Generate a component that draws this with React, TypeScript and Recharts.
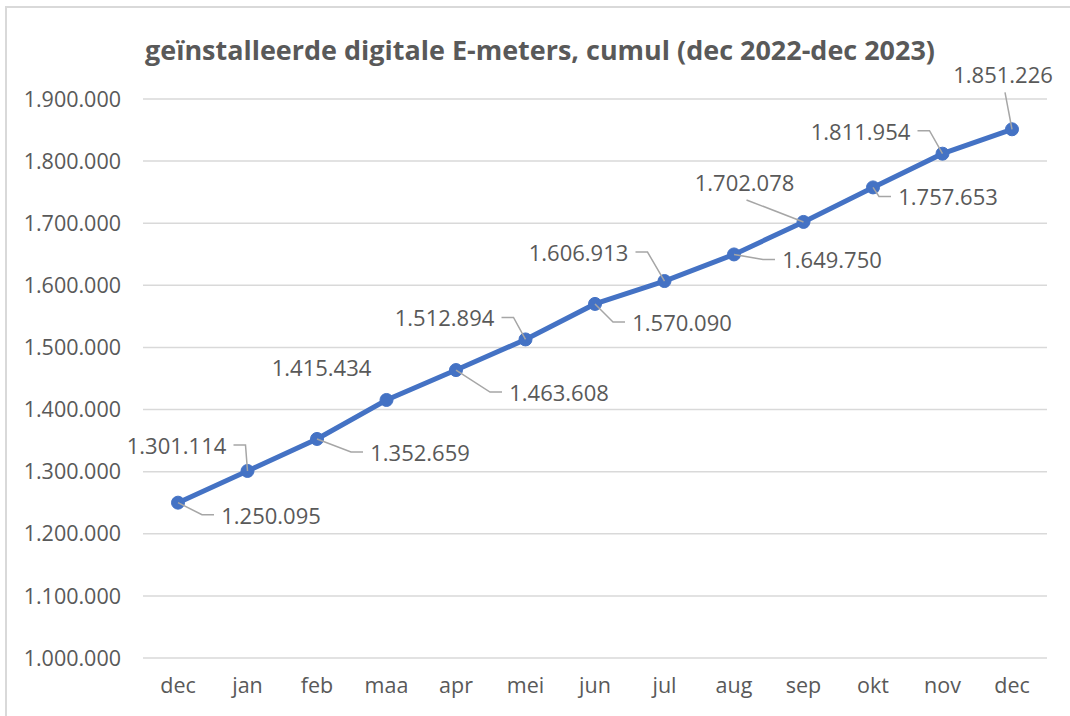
import React from 'react';
import { LineChart, Line, XAxis, YAxis, CartesianGrid, LabelList } from 'recharts';

// cumulative installed digital electricity meters
const months = ['dec', 'jan', 'feb', 'maa', 'apr', 'mei', 'jun', 'jul', 'aug', 'sep', 'okt', 'nov', 'dec'];
const meters = [1250095, 1301114, 1352659, 1415434, 1463608, 1512894, 1570090, 1606913, 1649750, 1702078, 1757653, 1811954, 1851226];
const yTicks = [1000000, 1100000, 1200000, 1300000, 1400000, 1500000, 1600000, 1700000, 1800000, 1900000];

const title = 'geïnstalleerde digitale E-meters, cumul (dec 2022-dec 2023)';

// where each data label sits relative to its point (r = right, l = left, t = top, n = no leader)
const labelPlace = [
  { dx: 93, dy: 12, side: 'r' },
  { dx: -71, dy: -26, side: 'l' },
  { dx: 103, dy: 13, side: 'r' },
  { dx: -65, dy: -33, side: 'n' },
  { dx: 103, dy: 22, side: 'r' },
  { dx: -81, dy: -22, side: 'l' },
  { dx: 87, dy: 18, side: 'r' },
  { dx: -86, dy: -29, side: 'l' },
  { dx: 98, dy: 5, side: 'r' },
  { dx: -59, dy: -40, side: 't' },
  { dx: 75, dy: 9, side: 'r' },
  { dx: -82, dy: -23, side: 'l' },
  { dx: -9, dy: -55, side: 't' },
];

const data = months.map((m, i) => ({ month: m, meters: meters[i] }));

const fmt = (v: number) => String(v).replace(/\B(?=(\d{3})+(?!\d))/g, '.');

const font = '"Open Sans", "DejaVu Sans", sans-serif';
const textColor = '#595959';
const half = 49;

const renderLabel = (props: any) => {
  const { x, y, value, index } = props;
  const p = labelPlace[index];
  if (!p) return null;
  const cx = x + p.dx;
  const cy = y + p.dy;
  let leader = '';
  if (p.side === 'r') {
    const left = cx - half;
    leader = `M${x},${y} L${left - 20},${cy} L${left - 8},${cy}`;
  } else if (p.side === 'l') {
    const right = cx + half;
    leader = `M${right + 8},${cy} L${right + 20},${cy} L${x},${y}`;
  } else if (p.side === 't') {
    leader = `M${cx + 2},${cy + 18} L${x},${y}`;
  }
  return (
    <g key={`lbl-${index}`}>
      {leader && <path d={leader} fill="none" stroke="#a6a6a6" strokeWidth={1.5} />}
      <text x={cx} y={cy} textAnchor="middle" dominantBaseline="central" fontSize={22} fontFamily={font} fill={textColor}>
        {fmt(value)}
      </text>
    </g>
  );
};

export default function App() {
  return (
    <div style={{ position: 'absolute', left: 0, top: 0, width: 1070, height: 716, background: '#fff', overflow: 'hidden' }}>
      <div style={{ position: 'absolute', left: 5, top: 6, width: 1100, height: 750, borderLeft: '2px solid #d9d9d9', borderTop: '2px solid #d9d9d9' }} />
      <LineChart width={1070} height={716} data={data} margin={{ top: 99, right: 23, bottom: 0, left: 0 }}>
        <CartesianGrid vertical={false} stroke="#d9d9d9" strokeWidth={1.5} />
        <XAxis
          dataKey="month"
          axisLine={false}
          tickLine={false}
          tickSize={0}
          tickMargin={20}
          height={58}
          padding={{ left: 35, right: 35 }}
          tick={{ fontSize: 21.5, fontFamily: font, fill: textColor }}
        />
        <YAxis
          domain={[1000000, 1900000]}
          ticks={yTicks}
          tickFormatter={fmt}
          axisLine={false}
          tickLine={false}
          tickSize={0}
          tickMargin={22}
          width={143}
          tick={{ fontSize: 21.5, fontFamily: font, fill: textColor }}
        />
        <Line
          dataKey="meters"
          stroke="#4472C4"
          strokeWidth={5}
          dot={{ r: 6.5, fill: '#4472C4', stroke: '#4472C4', strokeWidth: 1 }}
          isAnimationActive={false}
        >
          <LabelList dataKey="meters" content={renderLabel} />
        </Line>
      </LineChart>
      <svg width={1070} height={90} style={{ position: 'absolute', left: 0, top: 0, pointerEvents: 'none' }}>
        <text x={540} y={60} textAnchor="middle" fontSize={27} fontWeight="bold" fontFamily={font} fill={textColor} textLength={790} lengthAdjust="spacingAndGlyphs">
          {title}
        </text>
      </svg>
    </div>
  );
}
